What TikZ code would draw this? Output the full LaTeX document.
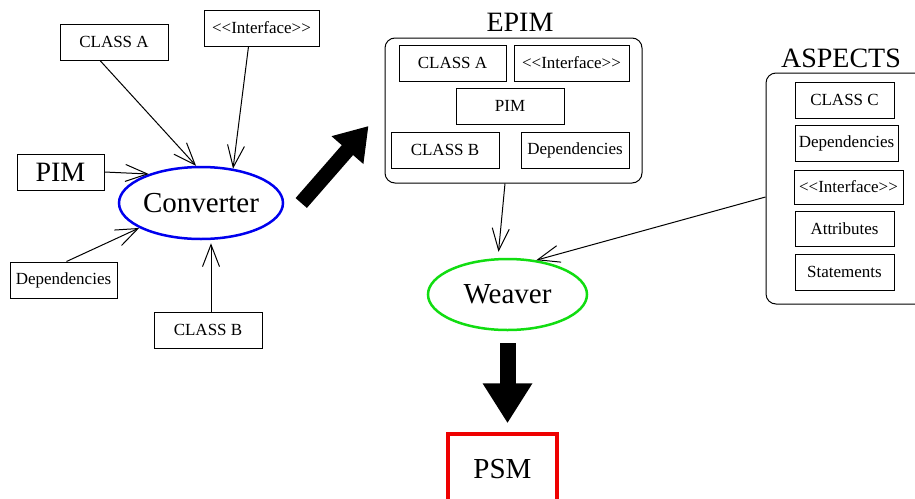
\documentclass[tikz,border=0pt]{standalone}
\usepackage{fontspec}
\setmainfont{Liberation Serif}[Ligatures=TeXOff]
\usetikzlibrary{arrows.meta,positioning,shapes.geometric,calc}
\definecolor{convblue}{HTML}{0000EE}
\definecolor{weavegreen}{HTML}{11DD11}
\definecolor{psmred}{HTML}{EE0000}
\tikzset{
  box/.style={draw, line width=1pt, inner sep=0pt, minimum height=36pt, font=\fontsize{17}{20}\selectfont},
  bigbox/.style={draw, line width=1pt, rounded corners=10pt, inner sep=0pt},
  title/.style={inner sep=0pt, font=\fontsize{28}{32}\selectfont},
  process/.style={ellipse, line width=2.5pt, inner sep=0pt, minimum width=158pt, minimum height=72pt, font=\fontsize{29}{32}\selectfont},
  arrow/.style={-{Straight Barb[length=22pt,width=17pt]}, line width=1pt},
  bigarrow/.style={-{Triangle[length=40pt,width=47pt]}, line width=16pt}
}

\begin{document}
\begin{tikzpicture}[x=1pt, y=-1pt]
  \useasboundingbox (0,0) rectangle (915,498);

  % converter and its inputs
  \node[process, draw=convblue] (conv) at (201,203) {Converter};
  \node[box, minimum width=108pt] (clsa) at (114,42) {CLASS A};
  \node[box, minimum width=115pt] (iface) at (261.5,28) {<<Interface>>};
  \node[box, minimum width=87pt, font=\fontsize{28}{32}\selectfont] (pim) at (60.5,172) {PIM};
  \node[box, minimum width=107pt] (deps) at (63.5,280) {Dependencies};
  \node[box, minimum width=108pt] (clsb) at (208,330) {CLASS B};

  \draw[arrow] ([xshift=-14pt]clsa.south) -- ([xshift=-5pt]conv.north);
  \draw[arrow] ([xshift=-13pt]iface.south) -- (conv.47);
  \draw[arrow] (pim.east) -- (conv.151);
  \draw[arrow] ([xshift=3pt]deps.north) -- (conv.202);
  \draw[arrow] ([xshift=3pt]clsb.north) -- ([xshift=10pt,yshift=-3pt]conv.south);

  % EPIM
  \node[bigbox, minimum width=257pt, minimum height=145pt] (epim) at (513.5,110.5) {};
  \node[title] (epimlbl) at (520,22) {EPIM};
  \node[box, minimum width=107pt] (eclsa) at (452.5,63) {CLASS A};
  \node[box, minimum width=115pt] (eiface) at (571.5,63) {<<Interface>>};
  \node[box, minimum width=108pt] (epimin) at (510,106) {PIM};
  \node[box, minimum width=108pt] (eclsb) at (445,150) {CLASS B};
  \node[box, minimum width=108pt] (edeps) at (575,150) {Dependencies};

  \draw[bigarrow, -{Triangle[length=32pt,width=40pt]}, line width=15pt]
    ([xshift=17pt]conv.east) -- ($(epim.west)+(-16,15.5)$);

  % ASPECTS
  \node[bigbox, minimum width=169pt, minimum height=231pt] (asp) at (850.5,188.5) {};
  \node[title] (asplbl) at (841,58) {ASPECTS};
  \node[box, minimum width=99pt] (aclsc) at (844.5,100) {CLASS C};
  \node[box, minimum width=103pt] (adeps) at (846.5,143) {Dependencies};
  \node[box, minimum width=109pt, minimum height=34pt] (aiface) at (848.5,187) {<<Interface>>};
  \node[box, minimum width=99pt, minimum height=35pt] (aattr) at (844.5,228.5) {Attributes};
  \node[box, minimum width=99pt] (astmt) at (844.5,272) {Statements};

  % weaver and result
  \node[process, draw=weavegreen, minimum width=159pt, minimum height=71pt] (weaver) at (507.5,294.5) {Weaver};
  \node[box, draw=psmred, line width=3.5pt, minimum width=109pt, minimum height=70pt, font=\fontsize{29}{32}\selectfont] (psm) at (502.5,469) {PSM};

  \draw[arrow] ([xshift=-8.5pt]epim.south) -- ([xshift=-9pt,yshift=6pt]weaver.north);
  \draw[arrow] ([yshift=-8.5pt]asp.west) -- (weaver.50);
  \draw[bigarrow] ([yshift=-12pt]weaver.south) -- ([yshift=9pt]psm.north -| weaver.south);
\end{tikzpicture}
\end{document}
